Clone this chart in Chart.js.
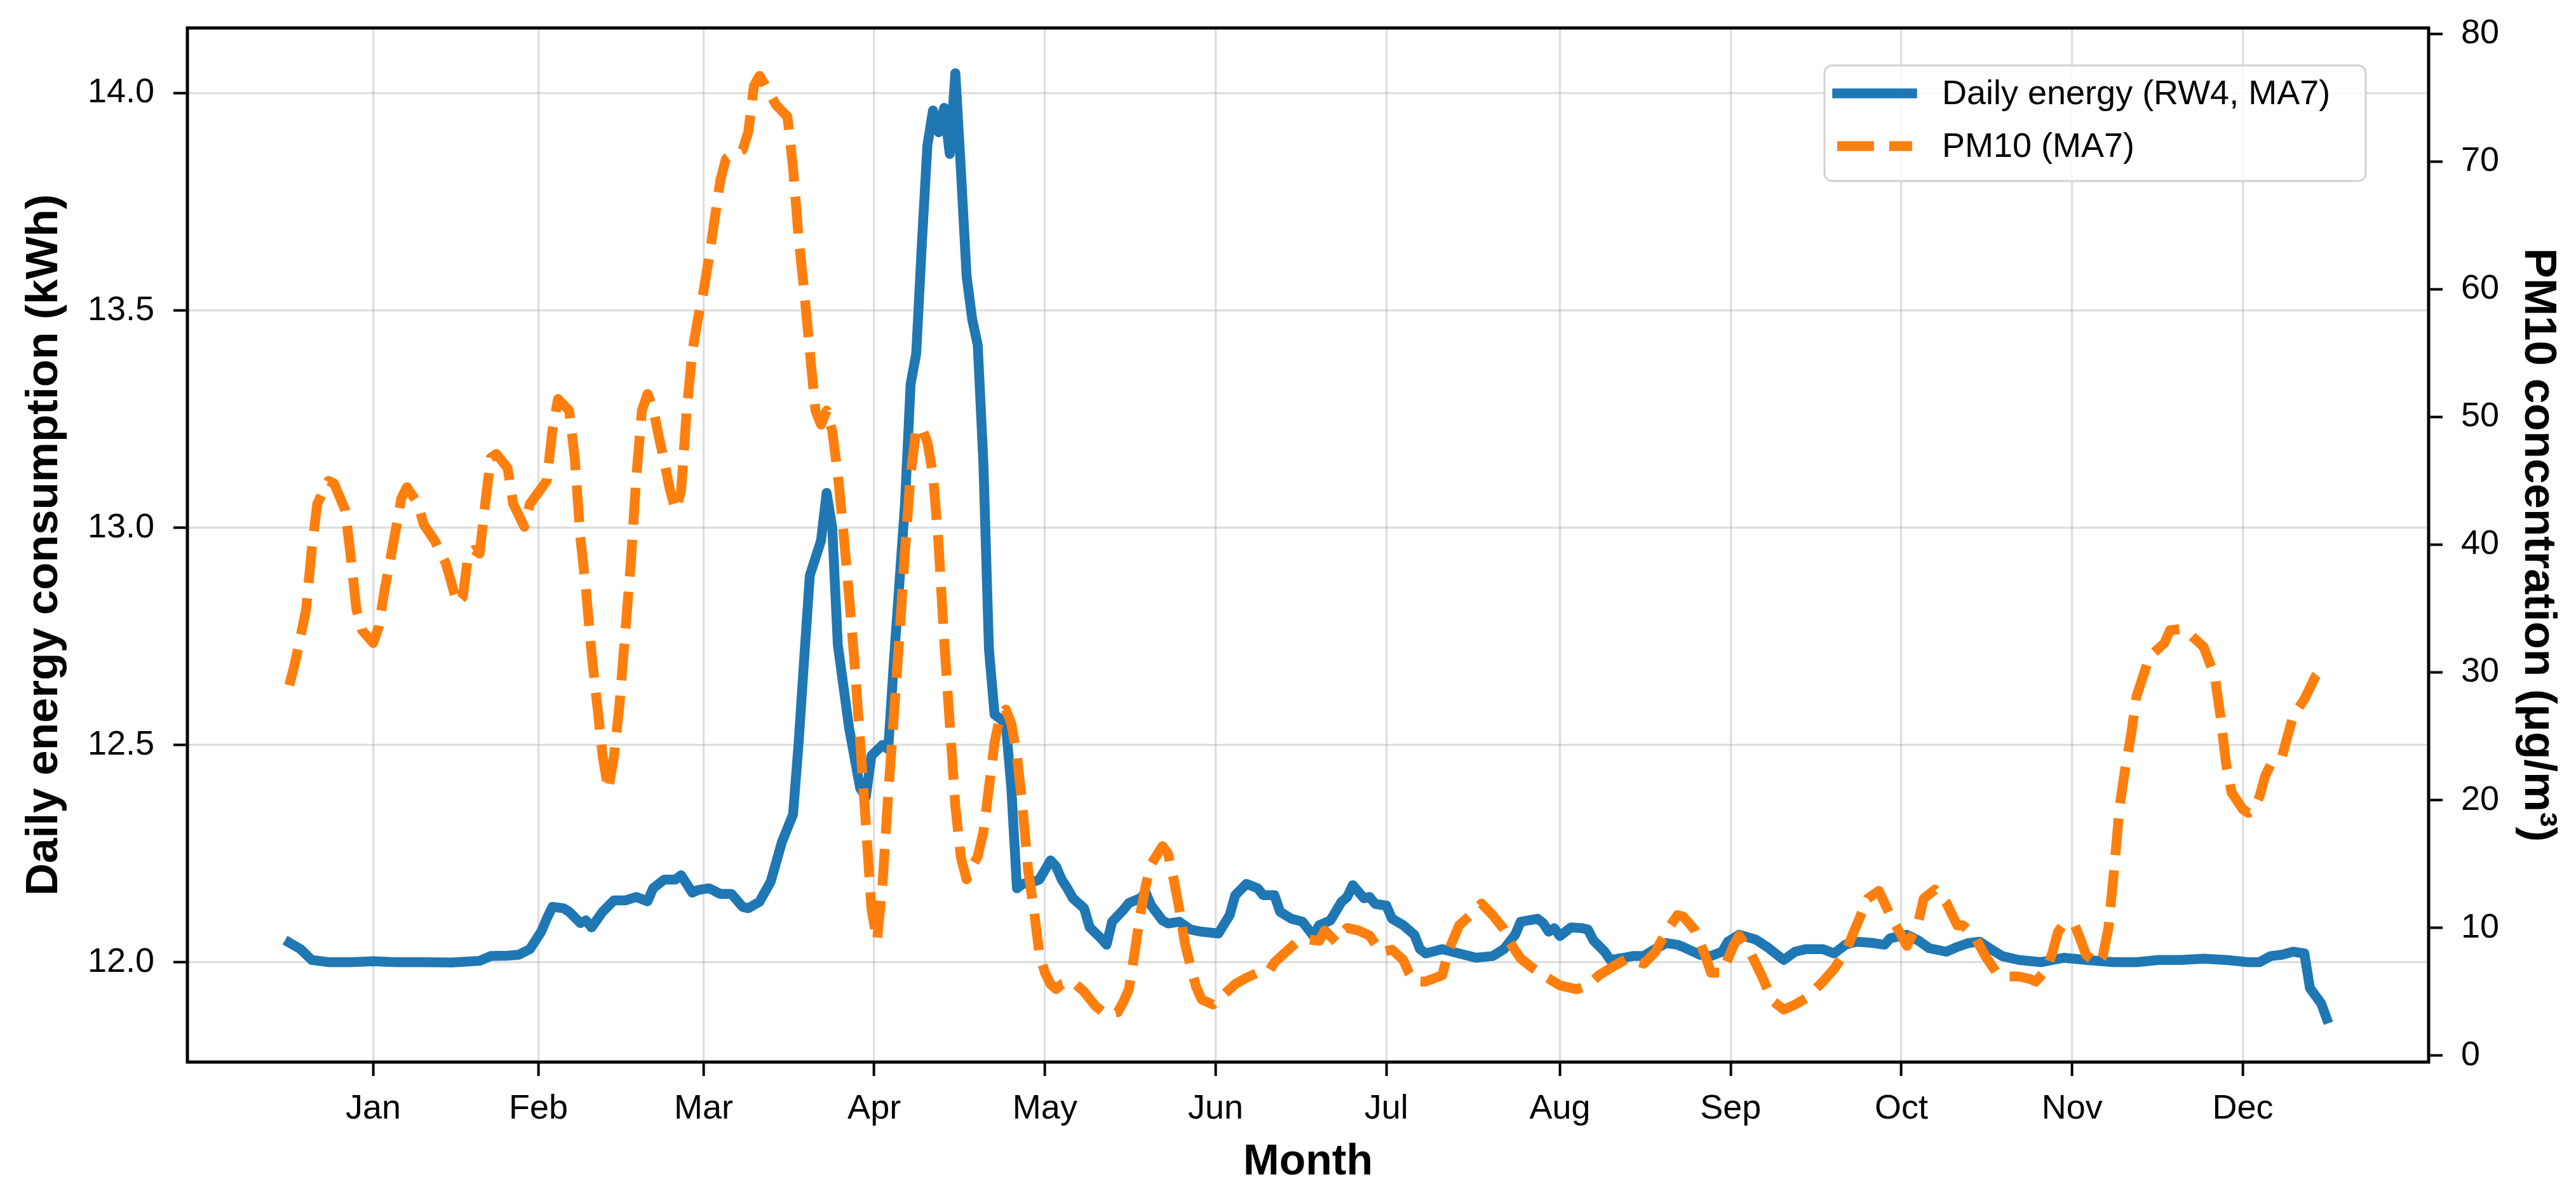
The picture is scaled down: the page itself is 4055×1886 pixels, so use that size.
<!DOCTYPE html>
<html>
<head>
<meta charset="utf-8">
<title>Daily energy vs PM10</title>
<script src="https://cdn.jsdelivr.net/npm/chart.js@4.4.0/dist/chart.umd.min.js"></script>
<style>
  html, body { margin: 0; padding: 0; background: #fff; }
  #wrap { width: 4055px; height: 1886px; }
</style>
</head>
<body>
<div id="wrap"><canvas id="myChart" width="4055" height="1886"></canvas></div>
<script>
// month labels sit at the centre day of each month (day of year)
var monthLabels = ['Jan', 'Feb', 'Mar', 'Apr', 'May', 'Jun', 'Jul', 'Aug', 'Sep', 'Oct', 'Nov', 'Dec'];
var monthCenters = [16, 45.5, 75, 105.5, 136, 166.5, 197, 228, 258.5, 289, 319.5, 350];

var energyTicks = [12.0, 12.5, 13.0, 13.5, 14.0];
var pmTicks = [0, 10, 20, 30, 40, 50, 60, 70, 80];

// daily energy (RW4, MA7), kWh
var energyDays = [1,3,5,8,12,16,20,25,30,35,
  37,40,42,44,46,47,48,50,51,53,
  54,55,57,59,61,63,65,66,68,70,
  71,73,74,76,78,80,82,83,85,87,
  89,91,92,93,94,96,97,98,99,101,
  103,104,105,107,108,109,111,112,113,114,
  115,116,117,118,119,120,121,122,123,124,
  125,126,127,129,130,131,132,134,135,137,
  138,139,140,141,143,144,146,147,148,150,
  151,153,154,155,157,158,160,162,164,167,
  169,170,172,174,175,177,178,180,182,184,
  185,187,189,190,191,193,194,195,197,198,
  200,202,203,204,207,210,213,216,218,220,
  221,224,225,226,227,228,230,232,233,234,
  236,237,239,241,243,245,247,249,250,253,
  255,257,258,260,263,265,268,270,272,275,
  277,279,281,284,286,287,290,292,294,297,
  299,301,303,305,307,310,314,318,322,327,
  331,335,339,343,347,351,353,355,357,359,
  361,362,364,365];
var energyKwh = [12.045,12.03,12.005,12.0,12.0,12.002,12.0,12.0,11.999,12.003,
  12.014,12.015,12.017,12.03,12.07,12.10,12.127,12.124,12.116,12.09,
  12.096,12.08,12.116,12.142,12.142,12.15,12.14,12.17,12.19,12.19,
  12.20,12.16,12.166,12.17,12.157,12.157,12.127,12.124,12.139,12.185,
  12.276,12.34,12.505,12.70,12.89,12.97,13.08,13.0,12.73,12.54,
  12.40,12.38,12.475,12.50,12.49,12.69,13.055,13.33,13.40,13.65,
  13.88,13.96,13.91,13.966,13.86,14.046,13.82,13.58,13.48,13.42,
  13.15,12.72,12.57,12.55,12.40,12.17,12.18,12.185,12.19,12.234,
  12.22,12.19,12.17,12.147,12.124,12.08,12.055,12.04,12.093,12.12,
  12.136,12.147,12.16,12.13,12.096,12.089,12.093,12.075,12.07,12.066,
  12.108,12.154,12.18,12.17,12.154,12.154,12.116,12.10,12.093,12.06,
  12.085,12.096,12.139,12.15,12.177,12.147,12.15,12.134,12.13,12.10,
  12.085,12.063,12.03,12.02,12.03,12.02,12.01,12.014,12.03,12.063,
  12.093,12.10,12.09,12.07,12.078,12.06,12.08,12.078,12.075,12.05,
  12.024,12.005,12.009,12.014,12.014,12.03,12.044,12.04,12.035,12.017,
  12.014,12.024,12.047,12.063,12.052,12.035,12.005,12.024,12.03,12.03,
  12.02,12.04,12.047,12.044,12.04,12.055,12.063,12.05,12.032,12.024,
  12.035,12.044,12.047,12.03,12.014,12.005,12.0,12.01,12.005,12.0,
  12.0,12.005,12.005,12.008,12.005,12.0,12.0,12.014,12.017,12.024,
  12.02,11.94,11.905,11.87];

// PM10 (MA7), ug/m3
var pmDays = [1,2,4,5,6,8,9,11,12,13,
  14,16,17,18,20,21,22,24,25,27,
  29,31,32,33,34,35,36,37,38,40,
  41,43,44,47,48,49,51,52,53,54,
  55,56,57,58,59,60,61,62,63,64,
  65,66,67,68,69,70,71,72,73,74,
  75,76,77,78,79,80,82,83,84,85,
  86,88,90,91,92,93,94,95,96,97,
  98,99,100,101,102,103,104,105,106,107,
  108,109,110,111,112,113,114,115,116,117,
  118,119,120,121,122,123,124,125,126,127,
  128,129,130,131,132,133,134,135,136,137,
  138,139,141,143,145,147,149,150,151,152,
  153,154,155,157,158,159,160,161,162,163,
  164,166,168,170,172,174,176,177,179,181,
  183,185,186,188,189,190,192,194,196,198,
  200,201,202,204,207,208,210,212,214,216,
  218,219,221,223,225,228,231,233,235,238,
  240,243,245,247,249,250,252,254,255,257,
  259,260,262,264,266,268,270,272,275,277,
  279,281,283,285,287,289,290,292,293,295,
  297,299,300,302,304,306,308,310,312,313,
  315,316,317,318,320,321,322,324,325,326,
  327,328,329,330,331,333,334,336,337,339,
  340,342,343,345,346,347,348,350,351,352,
  353,354,355,357,358,359,361,362,363,364,
  365];
var pmValues = [29.0,30.7,34.9,39.6,43.2,45.0,44.8,42.7,39.0,34.9,
  33.3,32.3,33.6,36.4,41.1,43.6,44.5,43.2,41.6,40.3,
  38.5,35.4,35.9,39.3,39.6,39.3,43.2,46.8,47.1,46.0,
  43.2,41.4,43.2,45.0,48.9,51.4,50.5,46.8,40.6,36.5,
  31.5,27.5,23.4,20.8,23.4,27.5,33.0,38.5,45.3,50.5,
  51.8,50.7,48.5,46.5,44.3,42.7,44.2,50.5,55.1,57.7,
  59.8,62.5,65.5,68.5,70.2,70.5,70.9,72.3,75.9,76.7,
  76.0,74.4,73.5,69.5,64.0,59.8,55.1,50.5,49.4,50.5,
  48.9,45.5,41.0,36.0,30.7,24.5,18.2,11.5,9.0,13.5,
  20.5,26.5,32.8,39.5,45.5,49.0,49.2,48.0,45.5,40.0,
  32.5,26.0,19.5,15.5,13.8,14.8,15.6,17.5,21.0,24.5,
  26.6,27.1,26.0,23.5,19.5,14.5,11.5,8.0,6.5,5.6,
  5.2,5.6,5.8,5.0,3.9,3.2,3.4,4.2,5.2,8.0,
  11.0,13.3,15.0,16.4,15.8,13.8,11.5,8.8,7.0,5.4,
  4.4,4.0,4.8,5.6,6.1,6.5,6.6,7.3,8.1,8.9,
  9.1,9.0,9.8,8.9,9.6,10.0,9.8,9.4,8.1,8.3,
  7.5,6.5,5.8,5.8,6.3,8.1,10.2,11.0,11.9,11.0,
  9.9,8.9,7.6,6.9,6.3,5.5,5.2,5.5,6.3,7.1,
  7.6,7.2,8.1,9.7,11.0,10.9,9.9,7.8,6.5,6.5,
  8.6,9.4,8.1,6.3,4.3,3.6,4.0,4.5,5.8,6.8,
  8.1,10.2,12.3,12.9,11.0,9.4,8.6,10.4,12.3,13.0,
  12.0,10.2,10.2,9.4,7.8,6.5,6.2,6.2,6.0,5.8,
  6.8,8.1,9.7,10.3,10.2,9.1,7.9,7.2,7.8,10.0,
  14.5,19.5,22.5,25.0,28.1,30.8,31.5,32.3,33.3,33.4,
  33.2,32.4,32.0,29.7,26.6,22.9,20.6,19.3,19.0,19.3,
  20.3,21.9,22.8,23.4,25.0,26.6,27.9,28.8,29.7,30.2,
  29.9];

var FONT = '"Liberation Sans", Arial, Helvetica, sans-serif';
var gridColor = 'rgba(176,176,176,0.42)';

function toPoints(xs, ys) {
    return xs.map(function(d, i) { return {x: d, y: ys[i]}; });
}

// black frame round the plot area (matplotlib spines)
var framePlugin = {
    id: 'frame',
    afterDatasetsDraw: function(chart) {
        var ctx = chart.ctx, a = chart.chartArea;
        ctx.save();
        ctx.strokeStyle = '#000';
        ctx.lineWidth = 5;
        ctx.strokeRect(a.left, a.top, a.right - a.left, a.bottom - a.top);
        ctx.restore();
    }
};

// legend box in the upper right corner of the plot
var legendPlugin = {
    id: 'legendBox',
    afterDraw: function(chart) {
        var ctx = chart.ctx, a = chart.chartArea;
        var w = 852, h = 182;
        var x = a.right - 99 - w, y = a.top + 59;
        ctx.save();
        ctx.beginPath();
        ctx.roundRect(x, y, w, h, 12);
        ctx.fillStyle = 'rgba(255,255,255,0.85)';
        ctx.fill();
        ctx.strokeStyle = '#d2d2d2';
        ctx.lineWidth = 3;
        ctx.stroke();
        chart.data.datasets.forEach(function(ds, i) {
            var rowY = y + 44 + i * 83;
            ctx.beginPath();
            ctx.setLineDash(ds.borderDash || []);
            ctx.lineCap = ds.borderCapStyle || 'butt';
            ctx.strokeStyle = ds.borderColor;
            ctx.lineWidth = ds.borderWidth;
            ctx.moveTo(x + 20, rowY);
            ctx.lineTo(x + 138, rowY);
            ctx.stroke();
            ctx.setLineDash([]);
            ctx.fillStyle = '#000';
            ctx.font = '54px ' + FONT;
            ctx.textBaseline = 'middle';
            ctx.textAlign = 'left';
            ctx.fillText(ds.label, x + 185, rowY + 2);
        });
        ctx.restore();
    }
};

function chart() {
    var ctx = document.getElementById('myChart');
    var myChart = new Chart(ctx, {
        type: 'line',
        data: {
            datasets: [
            {
                label: 'Daily energy (RW4, MA7)',
                data: toPoints(energyDays, energyKwh),
                yAxisID: 'y',
                borderColor: '#1f77b4',
                borderWidth: 15.5,
                borderCapStyle: 'square',
                borderJoinStyle: 'round',
                pointRadius: 0,
                tension: 0,
                order: 2
            },
            {
                label: 'PM10 (MA7)',
                data: toPoints(pmDays, pmValues),
                yAxisID: 'y1',
                borderColor: '#ff7f0e',
                borderWidth: 15.5,
                borderDash: [58, 24],
                borderCapStyle: 'butt',
                borderJoinStyle: 'round',
                pointRadius: 0,
                tension: 0,
                order: 1
            }]
        },
        options: {
            responsive: false,
            animation: false,
            devicePixelRatio: 1,
            layout: { padding: { top: 44, left: 0, right: 0, bottom: 0 } },
            plugins: {
                legend: { display: false },
                tooltip: { enabled: false }
            },
            scales: {
                x: {
                    type: 'linear',
                    position: 'bottom',
                    min: -17.2,
                    max: 383.2,
                    afterBuildTicks: function(s) {
                        s.ticks = monthCenters.map(function(v) { return {value: v}; });
                    },
                    afterFit: function(s) {
                        s.height = 214;
                        s.paddingLeft = 0;
                        s.paddingRight = 0;
                    },
                    ticks: {
                        autoSkip: false,
                        maxRotation: 0,
                        padding: 20,
                        color: '#000',
                        font: { family: FONT, size: 54 },
                        callback: function(v) {
                            return monthLabels[monthCenters.indexOf(v)];
                        }
                    },
                    grid: {
                        color: gridColor,
                        lineWidth: 3.3,
                        tickColor: '#000',
                        tickWidth: 4,
                        tickLength: 22
                    },
                    border: { display: false },
                    title: {
                        display: true,
                        text: 'Month',
                        color: '#000',
                        font: { family: FONT, size: 68, weight: 'bold' },
                        padding: { top: 0, bottom: 15 }
                    }
                },
                y: {
                    type: 'linear',
                    position: 'left',
                    min: 11.77,
                    max: 14.15,
                    afterBuildTicks: function(s) {
                        s.ticks = energyTicks.map(function(v) { return {value: v}; });
                    },
                    afterFit: function(s) {
                        s.width = 295;
                        s.paddingTop = 0;
                        s.paddingBottom = 0;
                    },
                    ticks: {
                        padding: 30,
                        color: '#000',
                        font: { family: FONT, size: 54 },
                        callback: function(v) { return Number(v).toFixed(1); }
                    },
                    grid: {
                        color: gridColor,
                        lineWidth: 3.3,
                        tickColor: '#000',
                        tickWidth: 4,
                        tickLength: 22
                    },
                    border: { display: false },
                    title: {
                        display: true,
                        text: 'Daily energy consumption (kWh)',
                        color: '#000',
                        font: { family: FONT, size: 71, weight: 'bold' },
                        padding: { top: 28, bottom: 0 }
                    }
                },
                y1: {
                    type: 'linear',
                    position: 'right',
                    min: -0.5,
                    max: 80.45,
                    afterBuildTicks: function(s) {
                        s.ticks = pmTicks.map(function(v) { return {value: v}; });
                    },
                    afterFit: function(s) {
                        s.width = 232;
                        s.paddingTop = 0;
                        s.paddingBottom = 0;
                    },
                    ticks: {
                        padding: 29,
                        color: '#000',
                        font: { family: FONT, size: 54 },
                        callback: function(v) { return String(v); }
                    },
                    grid: {
                        drawOnChartArea: false,
                        color: gridColor,
                        tickColor: '#000',
                        tickWidth: 4,
                        tickLength: 22
                    },
                    border: { display: false },
                    title: {
                        display: true,
                        text: 'PM10 concentration (μg/m³)',
                        color: '#000',
                        font: { family: FONT, size: 71, weight: 'bold' },
                        padding: { top: 18, bottom: 0 }
                    }
                }
            }
        },
        plugins: [framePlugin, legendPlugin]
    });
    return myChart;
}

chart();
</script>
</body>
</html>
